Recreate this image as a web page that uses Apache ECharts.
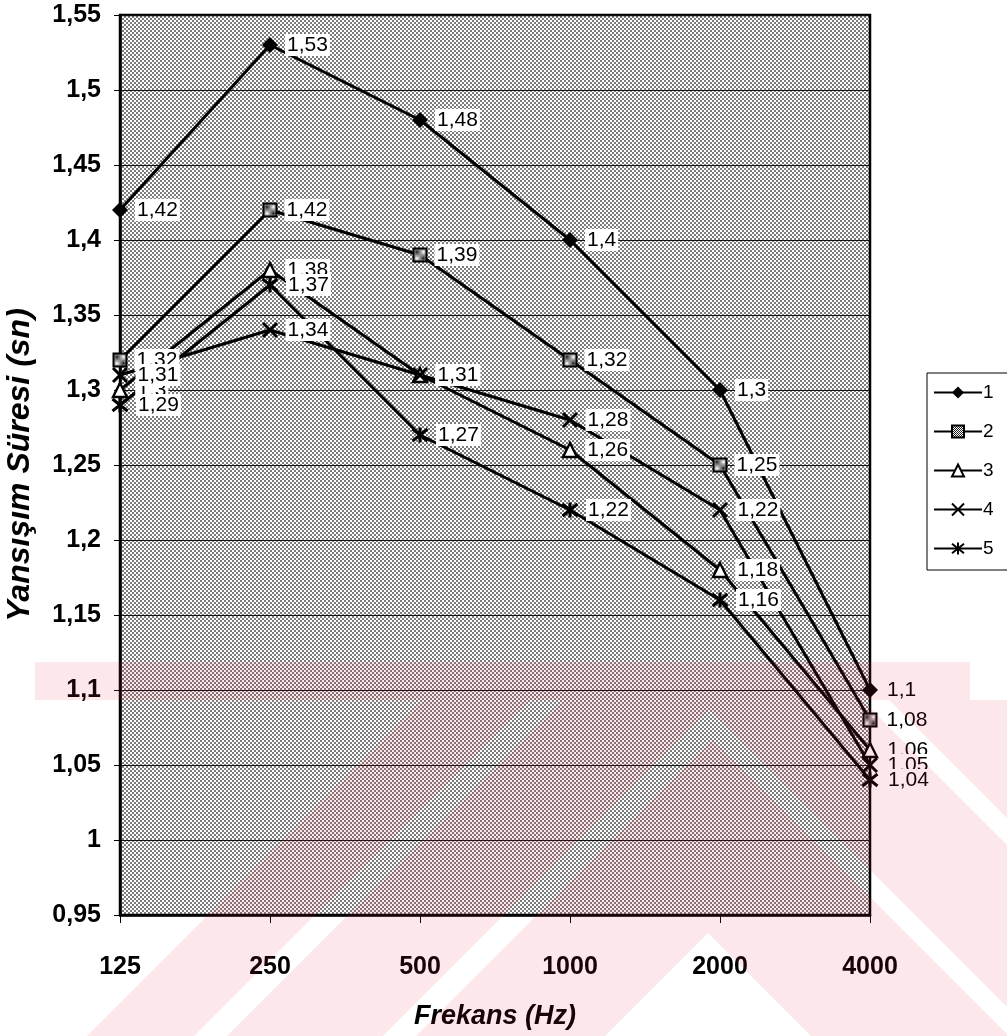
<!DOCTYPE html>
<html>
<head>
<meta charset="utf-8">
<script src="https://cdn.jsdelivr.net/npm/echarts@6/dist/echarts.min.js"></script>
<style>
  html, body { margin: 0; padding: 0; background: #fff; }
  #chart { width: 1007px; height: 1036px; }
</style>
</head>
<body>
<div id="chart"></div>
<script>
// Reverberation time per octave band, five measurement positions
const frequencies = ['125', '250', '500', '1000', '2000', '4000'];
const seriesNames = ['1', '2', '3', '4', '5'];
const series1 = [1.42, 1.53, 1.48, 1.40, 1.30, 1.10];
const series2 = [1.32, 1.42, 1.39, 1.32, 1.25, 1.08];
const series3 = [1.30, 1.38, 1.31, 1.26, 1.18, 1.06];
const series4 = [1.31, 1.34, 1.31, 1.28, 1.22, 1.05];
const series5 = [1.29, 1.37, 1.27, 1.22, 1.16, 1.04];
const yMin = 0.95, yMax = 1.55, yStep = 0.05;

const fmt = v => String(parseFloat(Number(v).toFixed(2))).replace('.', ',');
const FONT = '"Liberation Sans", Arial, sans-serif';

// halftone dot fill for the plot area
function dotPattern() {
  const c = document.createElement('canvas');
  c.width = 4; c.height = 4;
  const g = c.getContext('2d');
  g.fillStyle = '#fff'; g.fillRect(0, 0, 4, 4);
  g.fillStyle = '#7c7c7c';
  g.fillRect(0, 0, 2, 2);
  g.fillRect(2, 2, 2, 2);
  return c;
}
// checker fill for the square markers
function checkPattern() {
  const c = document.createElement('canvas');
  c.width = 2; c.height = 2;
  const g = c.getContext('2d');
  g.fillStyle = '#fff'; g.fillRect(0, 0, 2, 2);
  g.fillStyle = '#222'; g.fillRect(0, 0, 1, 1); g.fillRect(1, 1, 1, 1);
  return c;
}
// pale striped emblem across the lower part of the page
function emblem() {
  const c = document.createElement('canvas');
  c.width = 1007; c.height = 1036;
  const g = c.getContext('2d');
  const poly = pts => { g.beginPath(); pts.forEach(([x, y], i) => i ? g.lineTo(x, y) : g.moveTo(x, y)); g.closePath(); g.fill(); };
  g.fillStyle = 'rgb(230,30,60)';
  poly([[423,700],[1007,700],[1007,1036],[87,1036]]);
  g.globalCompositeOperation = 'destination-out';
  poly([[708,933],[811,1036],[605,1036]]);
  poly([[383,1036],[709.5,709.5],[1036,1036],[1009,1036],[712.5,739.5],[416,1036]]);
  poly([[194,1036],[709.5,520.5],[1225,1036],[1198,1036],[712.5,550.5],[227,1036]]);
  g.globalCompositeOperation = 'source-over';
  g.fillRect(35, 662, 935, 38);
  return c;
}

const label = {
  show: true,
  position: 'right',
  distance: 7,
  formatter: p => fmt(p.value),
  fontFamily: FONT,
  fontSize: 21,
  color: '#000',
  backgroundColor: '#fff',
  padding: [1, 2, 0, 2]
};

function lineSeries(name, data, symbol, size, itemStyle) {
  return {
    name, type: 'line', data, symbol, symbolSize: size, showAllSymbol: true,
    lineStyle: { color: '#000', width: 3 },
    itemStyle, label,
    emphasis: { disabled: true },
    animation: false
  };
}

const chart = echarts.init(document.getElementById('chart'), null, { renderer: 'canvas' });
chart.setOption({
  animation: false,
  backgroundColor: '#fff',
  grid: {
    left: 120, right: 137, top: 15, bottom: 121,
    outerBoundsMode: 'none',
    containLabel: false,
    show: true,
    backgroundColor: { image: dotPattern(), repeat: 'repeat' },
    borderColor: '#000', borderWidth: 2.5
  },
  legend: {
    data: seriesNames,
    orient: 'vertical',
    left: 927, top: 373,
    itemWidth: 48, itemHeight: 15, itemGap: 20,
    padding: [10, 40, 12, 6],
    borderColor: '#000', borderWidth: 1,
    backgroundColor: '#fff',
    textStyle: { fontFamily: FONT, fontSize: 19, color: '#000', padding: [0, 0, 0, -4] },
    selectedMode: false
  },
  xAxis: {
    type: 'category',
    data: frequencies,
    boundaryGap: false,
    name: 'Frekans (Hz)',
    nameLocation: 'middle',
    nameGap: 88,
    nameTextStyle: { fontFamily: FONT, fontSize: 27, fontWeight: 'bold', fontStyle: 'italic', color: '#000' },
    axisLine: { lineStyle: { color: '#000', width: 2.5 } },
    axisTick: { show: true, length: 8, lineStyle: { color: '#000', width: 1 } },
    axisLabel: { margin: 40, fontFamily: FONT, fontSize: 25, fontWeight: 'bold', color: '#000' },
    splitLine: { show: false }
  },
  yAxis: {
    type: 'value',
    min: yMin, max: yMax, interval: yStep,
    name: 'Yansışım Süresi (sn)',
    nameLocation: 'middle',
    nameGap: 84,
    nameTextStyle: { fontFamily: FONT, fontSize: 32, fontWeight: 'bold', fontStyle: 'italic', color: '#000' },
    axisLine: { show: true, lineStyle: { color: '#000', width: 2.5 } },
    axisTick: { show: true, length: 6, lineStyle: { color: '#000', width: 1 } },
    axisLabel: { margin: 19, fontFamily: FONT, fontSize: 25, fontWeight: 'bold', color: '#000', formatter: v => fmt(v) },
    splitLine: { show: true, lineStyle: { color: '#111', width: 1 } }
  },
  series: [
    lineSeries('1', series1, 'diamond', 16, { color: '#000' }),
    lineSeries('2', series2, 'rect', 13, { color: { image: checkPattern(), repeat: 'repeat' }, borderColor: '#000', borderWidth: 2 }),
    lineSeries('3', series3, 'triangle', 14, { color: '#fff', borderColor: '#000', borderWidth: 2.4 }),
    lineSeries('4', series4, 'path://M0,0L10,10M10,0L0,10', 14, { color: '#000', borderColor: '#000', borderWidth: 3 }),
    lineSeries('5', series5, 'path://M1,1L9,9M9,1L1,9M5,0L5,10', 15, { color: '#000', borderColor: '#000', borderWidth: 3 })
  ],
  graphic: [{
    type: 'image',
    left: 0, top: 0,
    silent: true,
    z: 100,
    style: { image: emblem(), width: 1007, height: 1036, opacity: 0.1 }
  }]
});
</script>
</body>
</html>
